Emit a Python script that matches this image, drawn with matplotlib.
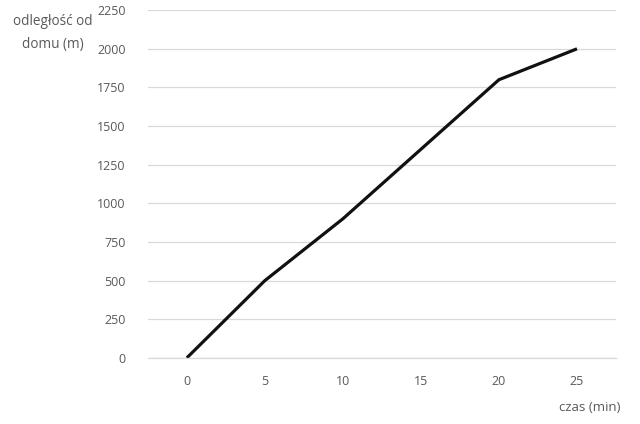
import matplotlib
matplotlib.use("Agg")
import matplotlib.pyplot as plt

# data
czas = [0, 5, 10, 15, 20, 25]
odleglosc = [0, 500, 900, 1350, 1800, 2000]
y_ticks = [0, 250, 500, 750, 1000, 1250, 1500, 1750, 2000, 2250]

plt.rcParams['font.family'] = ['Open Sans', 'DejaVu Sans']

fig = plt.figure(figsize=(6.4, 4.24), dpi=100)
ax = fig.add_axes([0.231, 0.156, 0.7315, 0.820])

pos = list(range(len(czas)))
ax.plot(pos, odleglosc, color='#111111', linewidth=2.3, solid_capstyle='butt')

ax.set_xlim(-0.5, len(czas) - 0.5)
ax.set_ylim(0, 2250)
ax.set_xticks(pos)
ax.set_xticklabels([str(c) for c in czas])
ax.set_yticks(y_ticks)

# grid like an office chart
ax.grid(axis='y', color='#d9d9d9', linewidth=0.9)
ax.set_axisbelow(True)
for s in ['top', 'right', 'left']:
    ax.spines[s].set_visible(False)
ax.spines['bottom'].set_color('#d9d9d9')
ax.spines['bottom'].set_linewidth(0.9)
ax.tick_params(length=0, colors='#595959', labelsize=9)
ax.tick_params(axis='x', pad=12)
ax.tick_params(axis='y', pad=16)

fig.text(0.082, 0.922, 'odległość od\ndomu (m)', ha='center', va='center',
         fontsize=9.8, color='#595959', linespacing=1.75)
fig.text(0.922, 0.04, 'czas (min)', ha='center', va='center',
         fontsize=9.5, color='#595959')

fig.savefig('out.png', dpi=100)
